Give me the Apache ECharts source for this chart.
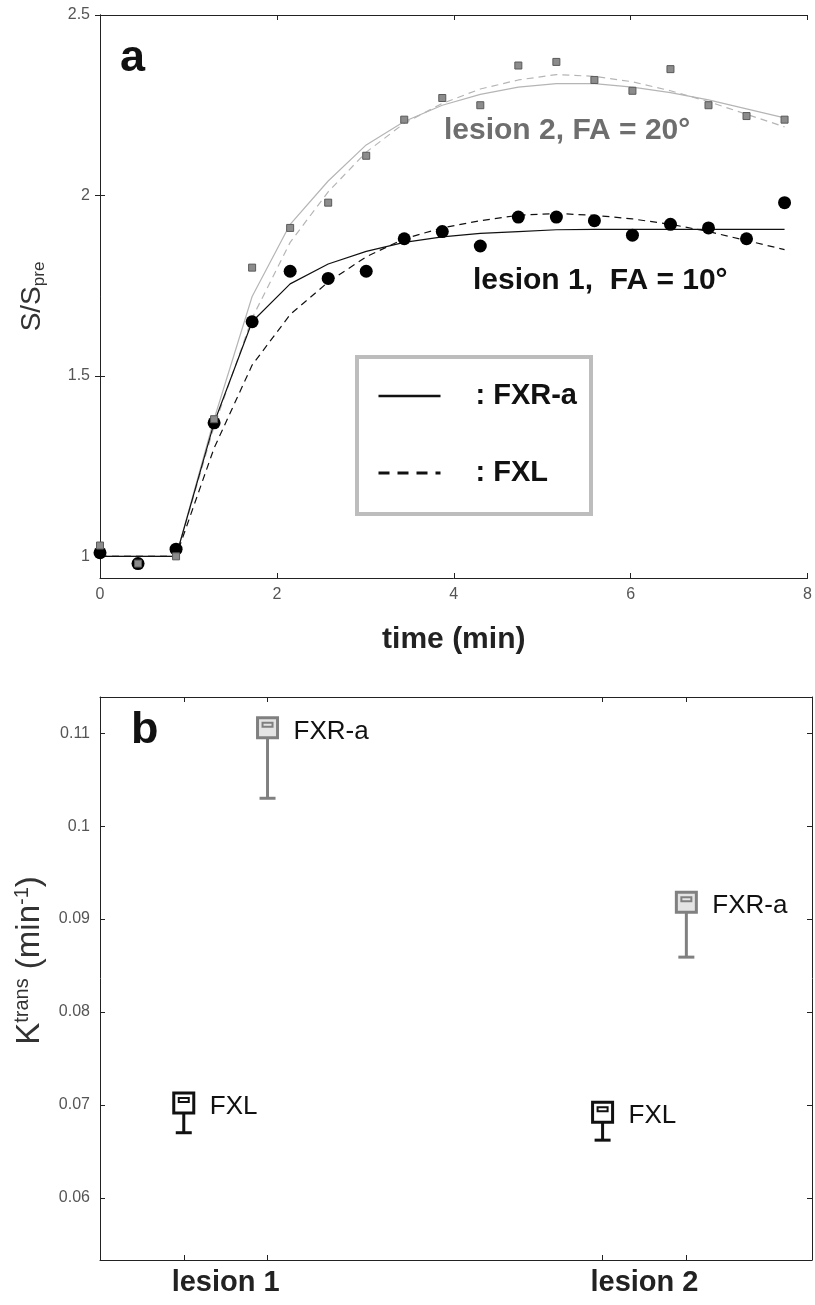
<!DOCTYPE html>
<html><head><meta charset="utf-8">
<script src="https://cdn.jsdelivr.net/npm/echarts@6/dist/echarts.min.js"></script>
<style>html,body{margin:0;padding:0;background:#fff}#c{width:815px;height:1305px}</style>
</head><body><div id="c"></div>
<script>
// ---- panel a data ----
const timeMin = [0,0.43,0.86,1.29,1.72,2.15,2.58,3.01,3.44,3.87,4.3,4.73,5.16,5.59,6.02,6.45,6.88,7.31,7.74];
const lesion1Data = [1.01,0.98,1.02,1.37,1.65,1.79,1.77,1.79,1.88,1.90,1.86,1.94,1.94,1.93,1.89,1.92,1.91,1.88,1.98];
const lesion2Data = [1.03,0.98,1.00,1.38,1.80,1.91,1.98,2.11,2.21,2.27,2.25,2.36,2.37,2.32,2.29,2.35,2.25,2.22,2.21];
const lesion1FXRa = [1.0,1.0,1.0,1.37,1.65,1.755,1.81,1.845,1.87,1.885,1.895,1.90,1.905,1.906,1.906,1.906,1.906,1.906,1.906];
const lesion1FXL  = [1.0,1.0,1.0,1.30,1.53,1.67,1.76,1.83,1.88,1.91,1.93,1.945,1.95,1.945,1.935,1.92,1.90,1.875,1.85];
const lesion2FXRa = [1.0,1.0,1.0,1.38,1.72,1.92,2.04,2.14,2.205,2.25,2.28,2.30,2.31,2.31,2.30,2.285,2.265,2.24,2.215];
const lesion2FXL  = [1.0,1.0,1.0,1.36,1.66,1.87,2.01,2.12,2.20,2.255,2.295,2.32,2.335,2.33,2.315,2.29,2.26,2.225,2.19];
const xTicksA = [0,2,4,6,8];
const yTicksA = [1,1.5,2,2.5];

// ---- panel b data ----
const lesionLabels = ['lesion 1','lesion 2'];
const lesionLabelPos = [1.1, 2.1];
const xFXL  = [1, 2];
const xFXRa = [1.2, 2.2];
const ktransFXL     = [0.0702, 0.0692];
const ktransFXLLow  = [0.0670, 0.0662];
const ktransFXRa    = [0.1106, 0.0918];
const ktransFXRaLow = [0.1030, 0.0859];
const yTicksB = [0.06,0.07,0.08,0.09,0.1,0.11];

const FONT = 'Liberation Sans';
const zip = (xs, ys) => xs.map((x,i)=>[x, ys[i]]);

function errRender(color, fill, label){
  return function(params, api){
    const x = api.value(0), y = api.value(1), lo = api.value(2);
    const c = api.coord([x,y]), l = api.coord([x,lo]);
    const h = 10;
    return {type:'group', children:[
      {type:'line', shape:{x1:c[0],y1:c[1],x2:l[0],y2:l[1]}, style:{stroke:color,lineWidth:3}},
      {type:'line', shape:{x1:l[0]-8,y1:l[1],x2:l[0]+8,y2:l[1]}, style:{stroke:color,lineWidth:3}},
      {type:'rect', shape:{x:c[0]-h,y:c[1]-h,width:2*h,height:2*h}, style:{fill:fill,stroke:color,lineWidth:3}},
      {type:'rect', shape:{x:c[0]-5,y:c[1]-5,width:10,height:4}, style:{fill:'none',stroke:color,lineWidth:2}},
      {type:'text', x:c[0]+26, y:c[1]+4, style:{text:label, fill:'#111', font:'26px "'+FONT+'"', textVerticalAlign:'middle'}}
    ]};
  };
}

const axisLineStyle = {show:true, lineStyle:{color:'#222', width:1}};
const tickLbl = {color:'#555', fontFamily:FONT, fontSize:16};

const chart = echarts.init(document.getElementById('c'), null, {renderer:'canvas'});
chart.setOption({
  backgroundColor:'#fff',
  animation:false,
  grid:[
    {left:100, top:15, width:712, height:563},
    {left:100, top:697, width:712, height:563}
  ],
  xAxis:[
    {gridIndex:0, type:'value', min:0, max:8, position:'bottom',
     axisLine:axisLineStyle, splitLine:{show:false},
     axisTick:{inside:true, length:5, customValues:xTicksA, lineStyle:{color:'#222'}},
     axisLabel:Object.assign({customValues:xTicksA, margin:9}, tickLbl),
     name:'time (min)', nameLocation:'middle', nameGap:47,
     nameTextStyle:{fontFamily:FONT, fontWeight:'bold', fontSize:30, color:'#222'}},
    {gridIndex:0, type:'value', min:0, max:8, position:'top',
     axisLine:axisLineStyle, splitLine:{show:false},
     axisTick:{inside:true, length:5, customValues:xTicksA, lineStyle:{color:'#222'}},
     axisLabel:{show:false}},
    {gridIndex:1, type:'value', min:0.8, max:2.5, position:'bottom',
     axisLine:axisLineStyle, splitLine:{show:false},
     axisTick:{inside:true, length:5, customValues:[xFXL[0],xFXRa[0],xFXL[1],xFXRa[1]], lineStyle:{color:'#222'}},
     axisLabel:{customValues:lesionLabelPos, margin:8, color:'#222', fontFamily:FONT, fontWeight:'bold', fontSize:29,
       formatter:v=>lesionLabels[lesionLabelPos.indexOf(+(+v).toFixed(2))] || ''}},
    {gridIndex:1, type:'value', min:0.8, max:2.5, position:'top',
     axisLine:axisLineStyle, splitLine:{show:false},
     axisTick:{inside:true, length:5, customValues:[xFXL[0],xFXRa[0],xFXL[1],xFXRa[1]], lineStyle:{color:'#222'}},
     axisLabel:{show:false}}
  ],
  yAxis:[
    {gridIndex:0, type:'value', min:0.94, max:2.5, position:'left',
     axisLine:axisLineStyle, splitLine:{show:false},
     axisTick:{inside:true, length:5, customValues:yTicksA, lineStyle:{color:'#222'}},
     axisLabel:Object.assign({customValues:yTicksA, margin:10}, tickLbl),
     name:'{k|S/S}{sub|pre}', nameLocation:'middle', nameGap:52, nameRotate:90,
     nameTextStyle:{rich:{
       k:{fontFamily:FONT, fontSize:28, color:'#333', lineHeight:32},
       sub:{fontFamily:FONT, fontSize:17, color:'#333', verticalAlign:'bottom', lineHeight:26}}}},
    {gridIndex:0, type:'value', min:0.94, max:2.5, position:'right',
     axisLine:axisLineStyle, splitLine:{show:false},
     axisTick:{inside:true, length:5, customValues:yTicksA, lineStyle:{color:'#222'}},
     axisLabel:{show:false}},
    {gridIndex:1, type:'value', min:0.0533, max:0.1139, position:'left',
     axisLine:axisLineStyle, splitLine:{show:false},
     axisTick:{inside:true, length:5, customValues:yTicksB, lineStyle:{color:'#222'}},
     axisLabel:Object.assign({customValues:yTicksB, margin:10, formatter:v=>String(+(+v).toFixed(2))}, tickLbl),
     name:'{k|K}{sup|trans}{k| (min}{sup|-1}{k|)}', nameLocation:'middle', nameGap:52, nameRotate:90,
     nameTextStyle:{padding:[0,0,0,36], rich:{
       k:{fontFamily:FONT, fontSize:33, color:'#333', lineHeight:36},
       sup:{fontFamily:FONT, fontSize:20, color:'#333', verticalAlign:'top', lineHeight:26}}}},
    {gridIndex:1, type:'value', min:0.0533, max:0.1139, position:'right',
     axisLine:axisLineStyle, splitLine:{show:false},
     axisTick:{inside:true, length:5, customValues:yTicksB, lineStyle:{color:'#222'}},
     axisLabel:{show:false}}
  ],
  legend:{
    data:[
      {name:': FXR-a', lineStyle:{width:2.4, type:'solid'}},
      {name:': FXL', lineStyle:{width:3, type:[11,8]}}
    ],
    orient:'vertical', left:357, top:357,
    padding:[24,14,26,20], itemGap:47, itemWidth:62, itemHeight:14,
    borderColor:'#bdbdbd', borderWidth:4, backgroundColor:'#fff',
    selectedMode:false,
    itemStyle:{opacity:0},
    textStyle:{fontFamily:FONT, fontWeight:'bold', fontSize:29, lineHeight:30, color:'#111', padding:[0,0,0,30]}
  },
  graphic:[
    {type:'text', left:120, top:36, style:{text:'a', font:'bold 45px "'+FONT+'"', fill:'#111'}},
    {type:'text', left:444, top:116, style:{text:'lesion 2, FA = 20°', font:'bold 30px "'+FONT+'"', fill:'#6e6e6e'}},
    {type:'text', left:473, top:266, style:{text:'lesion 1,  FA = 10°', font:'bold 30px "'+FONT+'"', fill:'#111'}},
    {type:'text', left:131, top:708, style:{text:'b', font:'bold 45px "'+FONT+'"', fill:'#111'}}
  ],
  series:[
    {name:'lesion 2 FXR-a', type:'line', xAxisIndex:0, yAxisIndex:0, data:zip(timeMin, lesion2FXRa),
     symbol:'none', lineStyle:{color:'#b5b5b5', width:1.2}, z:2},
    {name:'lesion 2 FXL', type:'line', xAxisIndex:0, yAxisIndex:0, data:zip(timeMin, lesion2FXL),
     symbol:'none', lineStyle:{color:'#b5b5b5', width:1.2, type:[7,5]}, z:2},
    {name:': FXR-a', type:'line', xAxisIndex:0, yAxisIndex:0, data:zip(timeMin, lesion1FXRa),
     symbol:'none', itemStyle:{color:'#111'}, lineStyle:{color:'#111', width:1.2}, z:3},
    {name:': FXL', type:'line', xAxisIndex:0, yAxisIndex:0, data:zip(timeMin, lesion1FXL),
     symbol:'none', itemStyle:{color:'#111'}, lineStyle:{color:'#111', width:1.2, type:[7,5]}, z:3},
    {name:'lesion 1 data', type:'scatter', xAxisIndex:0, yAxisIndex:0, data:zip(timeMin, lesion1Data),
     symbol:'circle', symbolSize:13, itemStyle:{color:'#000', opacity:1}, z:4},
    {name:'lesion 2 data', type:'scatter', xAxisIndex:0, yAxisIndex:0, data:zip(timeMin, lesion2Data),
     symbol:'rect', symbolSize:7, itemStyle:{color:'#8c8c8c', borderColor:'#5a5a5a', borderWidth:1, opacity:1}, z:5},
    {name:'FXL', type:'custom', xAxisIndex:2, yAxisIndex:2,
     data:xFXL.map((x,i)=>[x, ktransFXL[i], ktransFXLLow[i]]),
     renderItem:errRender('#111','#fff','FXL'), z:4},
    {name:'FXR-a', type:'custom', xAxisIndex:2, yAxisIndex:2,
     data:xFXRa.map((x,i)=>[x, ktransFXRa[i], ktransFXRaLow[i]]),
     renderItem:errRender('#808080','#e4e4e4','FXR-a'), z:4}
  ]
});
</script></body></html>
